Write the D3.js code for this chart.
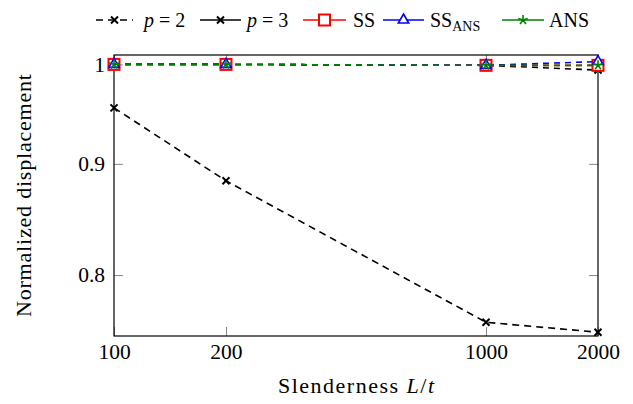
<!DOCTYPE html>
<html>
<head>
<meta charset="utf-8">
<script src="https://cdn.jsdelivr.net/npm/d3@7"></script>
<style>
  body { margin: 0; background: #fff; }
</style>
</head>
<body>
<svg id="chart" width="633" height="404"></svg>
<script>
// data
const slenderness = [100, 200, 1000, 2000];
const p2 = [0.955, 0.884, 0.761, 0.753];
const p3 = [1.000, 1.000, 0.999, 0.994];
const ss = [1.000, 1.000, 0.999, 0.999];
const ssAns = [1.000, 1.000, 0.999, 1.003];
const ans = [1.000, 1.000, 0.999, 0.999];
const xTicks = [100, 200, 1000, 2000];
const yTicks = [0.8, 0.9, 1];

const serif = "'Liberation Serif', 'Times New Roman', 'DejaVu Serif', serif";
const svg = d3.select("#chart");
const plotL = 114, plotR = 598, plotT = 55, plotB = 336;

const x = d3.scaleLog().domain([100, 2000]).range([plotL, plotR]);
const y = d3.scaleLog().domain([0.75, 1.01]).range([plotB, plotT]);

const series = [
  {name: "p2", values: p2, color: "#000", marker: "cross", dash: "7,5", legendDash: "7,5"},
  {name: "p3", values: p3, color: "#000", marker: "cross", dash: "6,5", legendDash: null},
  {name: "SS", values: ss, color: "#f00", marker: "square", dash: "6,5", legendDash: null},
  {name: "SSANS", values: ssAns, color: "#00f", marker: "triangle", dash: "6,5", legendDash: null},
  {name: "ANS", values: ans, color: "#008000", marker: "star", dash: "6,5", legendDash: null},
];

function marker(g, type, color) {
  if (type === "cross") {
    g.append("path").attr("d", "M-3.5,-3.5L3.5,3.5M-3.5,3.5L3.5,-3.5")
      .attr("stroke", color).attr("stroke-width", 2).attr("fill", "none");
  } else if (type === "square") {
    g.append("rect").attr("x", -5.5).attr("y", -5.5).attr("width", 11).attr("height", 11)
      .attr("stroke", color).attr("stroke-width", 2).attr("fill", "#fff");
  } else if (type === "triangle") {
    g.append("path").attr("d", "M0,-6L5.2,3L-5.2,3Z")
      .attr("stroke", color).attr("stroke-width", 1.6).attr("fill", "#fff");
  } else if (type === "star") {
    let d = "";
    for (let k = 0; k < 5; k++) {
      const a = -Math.PI / 2 + k * 2 * Math.PI / 5;
      d += "M0,0L" + (5 * Math.cos(a)).toFixed(2) + "," + (5 * Math.sin(a)).toFixed(2);
    }
    g.append("path").attr("d", d).attr("stroke", color).attr("stroke-width", 1.6).attr("fill", "none");
  }
}

// axes with inward gray ticks, mirrored
const tickColor = "#888";
const tickLen = 9;
const fmt = d => d === 1 ? "1" : String(d);

const axB = svg.append("g").attr("transform", `translate(0,${plotB})`)
  .call(d3.axisBottom(x).tickValues(xTicks).tickFormat(d3.format("d")).tickSize(-tickLen).tickPadding(8));
const axT = svg.append("g").attr("transform", `translate(0,${plotT})`)
  .call(d3.axisTop(x).tickValues(xTicks).tickFormat("").tickSize(-tickLen));
const axL = svg.append("g").attr("transform", `translate(${plotL},0)`)
  .call(d3.axisLeft(y).tickValues(yTicks).tickFormat(fmt).tickSize(-tickLen).tickPadding(9));
const axR = svg.append("g").attr("transform", `translate(${plotR},0)`)
  .call(d3.axisRight(y).tickValues(yTicks).tickFormat("").tickSize(-tickLen));

[axB, axT, axL, axR].forEach(a => {
  a.attr("font-family", null);
  a.select(".domain").remove();
  a.selectAll(".tick line").attr("stroke", tickColor).attr("stroke-width", 1);
  a.selectAll(".tick text").style("font-size", "21.5px").style("font-family", serif).attr("fill", "#000");
});

// frame
svg.append("rect").attr("x", plotL).attr("y", plotT).attr("width", plotR - plotL).attr("height", plotB - plotT)
  .attr("fill", "none").attr("stroke", "#000").attr("stroke-width", 1.2);

// lines and markers
const line = d3.line().x((d, i) => x(slenderness[i])).y(d => y(d));
series.forEach(s => {
  svg.append("path").datum(s.values).attr("d", line)
    .attr("fill", "none").attr("stroke", s.color).attr("stroke-width", 1.6)
    .attr("stroke-dasharray", s.dash);
  s.values.forEach((v, i) => {
    const g = svg.append("g").attr("transform", `translate(${x(slenderness[i])},${y(v)})`);
    marker(g, s.marker, s.color);
  });
});

// legend
const legendY = 20;
const legendItems = [
  {s: series[0], x0: 96, x1: 133, tx: 144, label: [["p", true], [" = 2", false]]},
  {s: series[1], x0: 200, x1: 241, tx: 247, label: [["p", true], [" = 3", false]]},
  {s: series[2], x0: 303, x1: 346, tx: 353, label: [["SS", false]]},
  {s: series[3], x0: 383, x1: 424, tx: 430, label: [["SS", false]], sub: "ANS"},
  {s: series[4], x0: 502, x1: 544, tx: 549, label: [["ANS", false]]},
];
legendItems.forEach(it => {
  svg.append("line").attr("x1", it.x0).attr("x2", it.x1).attr("y1", legendY).attr("y2", legendY)
    .attr("stroke", it.s.color).attr("stroke-width", 1.6)
    .attr("stroke-dasharray", it.s.legendDash);
  const g = svg.append("g").attr("transform", `translate(${(it.x0 + it.x1) / 2},${legendY})`);
  marker(g, it.s.marker, it.s.color);
  const t = svg.append("text").attr("x", it.tx).attr("y", legendY + 7)
    .style("font-size", "20px").style("font-family", serif);
  it.label.forEach(([txt, ital]) => {
    t.append("tspan").text(txt).style("font-style", ital ? "italic" : "normal");
  });
  if (it.sub) {
    t.append("tspan").text(it.sub).style("font-size", "14px").attr("dy", 4);
  }
});

// axis labels
const xl = svg.append("text").attr("x", (plotL + plotR) / 2).attr("y", 393)
  .attr("text-anchor", "middle").style("font-size", "22px").style("font-family", serif)
  .attr("textLength", 156).attr("lengthAdjust", "spacing");
xl.append("tspan").text("Slenderness ");
xl.append("tspan").text("L").style("font-style", "italic");
xl.append("tspan").text("/");
xl.append("tspan").text("t").style("font-style", "italic");

svg.append("text").attr("transform", `translate(31,${(plotT + plotB) / 2}) rotate(-90)`)
  .attr("text-anchor", "middle").style("font-size", "22px").style("font-family", serif)
  .attr("textLength", 243).attr("lengthAdjust", "spacing")
  .text("Normalized displacement");
</script>
</body>
</html>
